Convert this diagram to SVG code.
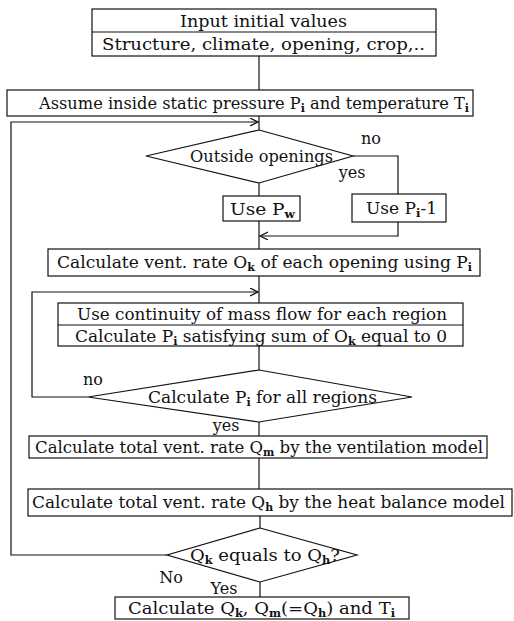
<svg xmlns="http://www.w3.org/2000/svg" width="514" height="621" viewBox="0 0 514 621">
<defs>
<style>
.box{fill:#fff;stroke:#111;stroke-width:1.2}
.ln{fill:none;stroke:#111;stroke-width:1.2}
text{font-family:"DejaVu Serif","Liberation Serif",serif;font-size:17px;fill:#111}
.c{text-anchor:middle}
.lab{font-size:16px}
.sub{font-size:11px;font-weight:bold}
</style>
<marker id="ar" markerWidth="10" markerHeight="10" refX="8" refY="4" orient="auto" markerUnits="userSpaceOnUse">
<path d="M0,0 L8,4 L0,8" fill="none" stroke="#111" stroke-width="1.2"/>
</marker>
</defs>
<rect width="514" height="621" fill="#fff"/>
<g id="connectors">
<line class="ln" x1="259" y1="56" x2="259" y2="90"/>
<line class="ln" x1="259" y1="116" x2="259" y2="130"/>
<polyline class="ln" points="167,555 11,555 11,122 258,122" marker-end="url(#ar)"/>
<polyline class="ln" points="353,156 398,156 398,194"/>
<line class="ln" x1="259" y1="183" x2="259" y2="196"/>
<line class="ln" x1="259" y1="221" x2="259" y2="249"/>
<polyline class="ln" points="398,222 398,236 260,236" marker-end="url(#ar)"/>
<line class="ln" x1="259" y1="276" x2="259" y2="303"/>
<polyline class="ln" points="88,397 32,397 32,292 258,292" marker-end="url(#ar)"/>
<line class="ln" x1="259" y1="346" x2="259" y2="370"/>
<line class="ln" x1="259" y1="422" x2="259" y2="436"/>
<line class="ln" x1="259" y1="458" x2="259" y2="489"/>
<line class="ln" x1="260" y1="516" x2="260" y2="528"/>
<line class="ln" x1="260" y1="582" x2="260" y2="597"/>
<text class="lab c" x="371" y="144">no</text>
<text class="lab c" x="352" y="178">yes</text>
<text class="lab c" x="93" y="385">no</text>
<text class="lab c" x="226" y="431">yes</text>
<text class="lab c" x="171" y="583">No</text>
<text class="lab c" x="224" y="594">Yes</text>
</g>
<g id="input">
<rect class="box" x="92" y="9" width="344" height="47"/>
<line class="ln" x1="92" y1="32" x2="436" y2="32"/>
<text x="180" y="27" style="font-size:17.5px" textLength="167" lengthAdjust="spacingAndGlyphs">Input initial values</text>
<text x="102" y="50" style="font-size:17.5px" textLength="323" lengthAdjust="spacingAndGlyphs">Structure, climate, opening, crop,..</text>
</g>
<g id="assume">
<rect class="box" x="7" y="90" width="466" height="26"/>
<text x="39" y="109" style="font-size:16.3px" textLength="430" lengthAdjust="spacingAndGlyphs">Assume inside static pressure P<tspan class="sub" dy="3">i</tspan><tspan dy="-3"> and temperature T</tspan><tspan class="sub" dy="3">i</tspan></text>
</g>
<g id="outside">
<polygon class="box" points="259,130 353,156 259,183 146,156"/>
<text x="190" y="162" style="font-size:16.4px" textLength="143" lengthAdjust="spacingAndGlyphs">Outside openings</text>
</g>
<g id="usepw">
<rect class="box" x="223" y="196" width="77" height="25"/>
<text x="230" y="215" textLength="65" lengthAdjust="spacingAndGlyphs">Use P<tspan class="sub" dy="3">w</tspan></text>
</g>
<g id="usepi">
<rect class="box" x="352" y="194" width="94" height="28"/>
<text x="366" y="214" style="font-size:16.5px" textLength="71" lengthAdjust="spacingAndGlyphs">Use P<tspan class="sub" dy="3">i</tspan><tspan dy="-3">-1</tspan></text>
</g>
<g id="ventrate">
<rect class="box" x="48" y="249" width="432" height="27"/>
<text x="57" y="268" textLength="415" lengthAdjust="spacingAndGlyphs">Calculate vent. rate O<tspan class="sub" dy="3">k</tspan><tspan dy="-3"> of each opening using P</tspan><tspan class="sub" dy="3">i</tspan></text>
</g>
<g id="continuity">
<rect class="box" x="58" y="303" width="405" height="43"/>
<line class="ln" x1="58" y1="325" x2="463" y2="325"/>
<text x="77" y="320" style="font-size:16.7px" textLength="370" lengthAdjust="spacingAndGlyphs">Use continuity of mass flow for each region</text>
<text x="75" y="342" style="font-size:16.9px" textLength="372" lengthAdjust="spacingAndGlyphs">Calculate P<tspan class="sub" dy="3">i</tspan><tspan dy="-3"> satisfying sum of O</tspan><tspan class="sub" dy="3">k</tspan><tspan dy="-3"> equal to 0</tspan></text>
</g>
<g id="allregions">
<polygon class="box" points="259,370 412,397 259,422 88,397"/>
<text x="148" y="403" textLength="229" lengthAdjust="spacingAndGlyphs">Calculate P<tspan class="sub" dy="3">i</tspan><tspan dy="-3"> for all regions</tspan></text>
</g>
<g id="qm">
<rect class="box" x="29" y="436" width="458" height="22"/>
<text x="35" y="453" style="font-size:16.3px" textLength="448" lengthAdjust="spacingAndGlyphs">Calculate total vent. rate Q<tspan class="sub" dy="3" style="font-size:10.5px">m</tspan><tspan dy="-3"> by the ventilation model</tspan></text>
</g>
<g id="qh">
<rect class="box" x="28" y="489" width="484" height="27"/>
<text x="32" y="508" textLength="473" lengthAdjust="spacingAndGlyphs">Calculate total vent. rate Q<tspan class="sub" dy="3">h</tspan><tspan dy="-3"> by the heat balance model</tspan></text>
</g>
<g id="equals">
<polygon class="box" points="260,528 357,555 260,582 167,555"/>
<text x="190" y="561" style="font-size:17.5px" textLength="150" lengthAdjust="spacingAndGlyphs">Q<tspan class="sub" dy="3">k</tspan><tspan dy="-3"> equals to Q</tspan><tspan class="sub" dy="3">h</tspan><tspan dy="-3">?</tspan></text>
</g>
<g id="result">
<rect class="box" x="115" y="597" width="294" height="22"/>
<text x="128" y="614" style="font-size:17.5px" textLength="267" lengthAdjust="spacingAndGlyphs">Calculate Q<tspan class="sub" dy="3">k</tspan><tspan dy="-3">, Q</tspan><tspan class="sub" dy="3">m</tspan><tspan dy="-3">(=Q</tspan><tspan class="sub" dy="3">h</tspan><tspan dy="-3">) and T</tspan><tspan class="sub" dy="3">i</tspan></text>
</g>
</svg>
